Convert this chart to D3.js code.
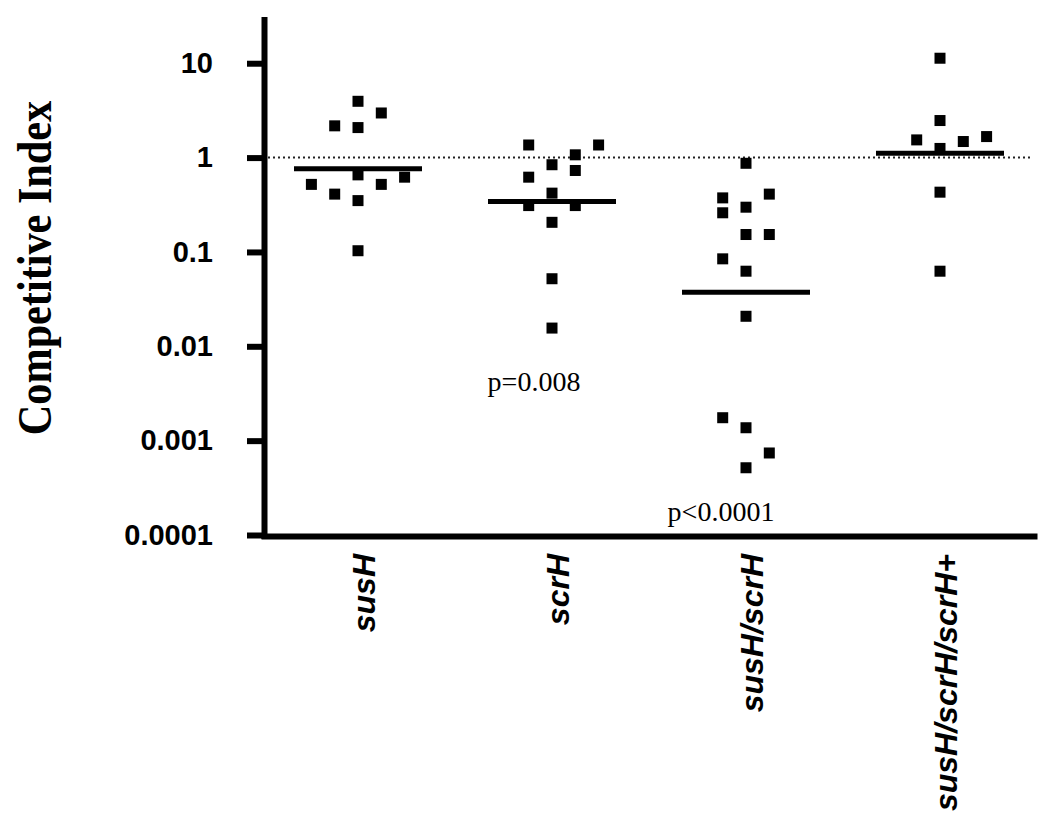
<!DOCTYPE html>
<html>
<head>
<meta charset="utf-8">
<script src="https://cdn.jsdelivr.net/npm/d3@7"></script>
<style>
  html, body { margin: 0; padding: 0; background: #fff; }
  svg { display: block; }
</style>
</head>
<body>
<svg id="chart" width="1050" height="829"></svg>
<script>
// ---- data ----
const categories = ["susH", "scrH", "susH/scrH", "susH/scrH/scrH+"];
const susHValues   = [3.95, 2.97, 2.17, 2.08, 0.656, 0.62, 0.52, 0.52, 0.41, 0.35, 0.103];
const susHSlots    = [0, 1, -1, 0, 0, 2, -2, 1, -1, 0, 0];
const scrHValues   = [1.36, 1.36, 1.07, 0.84, 0.73, 0.62, 0.42, 0.31, 0.31, 0.206, 0.052, 0.0156];
const scrHSlots    = [-1, 2, 1, 0, 1, -1, 0, -1, 1, 0, 0, 0];
const doubleValues = [0.87, 0.41, 0.374, 0.298, 0.26, 0.153, 0.153, 0.0845, 0.0625, 0.0208, 0.00175, 0.00137, 0.00074, 0.000516];
const doubleSlots  = [0, 1, -1, 0, -1, 0, 1, -1, 0, 0, -1, 0, 1, 0];
const complValues  = [11.3, 2.47, 1.54, 1.67, 1.48, 1.25, 0.43, 0.0625];
const complSlots   = [0, 0, -1, 2, 1, 0, 0, 0];
const groupMeans   = [0.76, 0.342, 0.0374, 1.11];
const yTickValues  = [10, 1, 0.1, 0.01, 0.001, 0.0001];
const yTickLabels  = ["10", "1", "0.1", "0.01", "0.001", "0.0001"];
const referenceValue = 1;
const pLabels = [
  { category: "scrH", text: "p=0.008", value: 0.00335 },
  { category: "susH/scrH", text: "p<0.0001", value: 0.000141 }
];

const groups = [
  { category: categories[0], values: susHValues, slots: susHSlots },
  { category: categories[1], values: scrHValues, slots: scrHSlots },
  { category: categories[2], values: doubleValues, slots: doubleSlots },
  { category: categories[3], values: complValues, slots: complSlots }
];

// ---- scales ----
const svg = d3.select("#chart");
const y = d3.scaleLog().domain([1e-4, Math.pow(10, 1.49)]).range([535, 17]);
const x = d3.scaleBand().domain(categories).range([261, 1037]);
const slot = d3.scaleLinear().domain([-1, 1]).range([-23.3, 23.3]);
const cx = c => x(c) + x.bandwidth() / 2;

const SANS = "'Liberation Sans', Arial, Helvetica, sans-serif";
const SERIF = "'Liberation Serif', 'Times New Roman', serif";

// ---- reference dotted line ----
svg.append("line")
  .attr("x1", 268).attr("x2", 1033)
  .attr("y1", y(referenceValue)).attr("y2", y(referenceValue))
  .attr("stroke", "#222").attr("stroke-width", 2)
  .attr("stroke-dasharray", "2,3");

// ---- points ----
const pts = groups.flatMap(g => g.values.map((v, i) => ({ c: g.category, v, s: g.slots[i] })));
const sz = 11;
svg.append("g").selectAll("rect").data(pts).join("rect")
  .attr("x", d => cx(d.c) + slot(d.s) - sz / 2)
  .attr("y", d => y(d.v) - sz / 2)
  .attr("width", sz).attr("height", sz)
  .attr("fill", "#000");

// ---- mean lines ----
svg.append("g").selectAll("line").data(groupMeans).join("line")
  .attr("x1", (d, i) => cx(categories[i]) - 64)
  .attr("x2", (d, i) => cx(categories[i]) + 64)
  .attr("y1", d => y(d)).attr("y2", d => y(d))
  .attr("stroke", "#000").attr("stroke-width", 5);

// ---- y axis ----
const yAxis = d3.axisLeft(y)
  .tickValues(yTickValues)
  .tickFormat((d, i) => yTickLabels[i])
  .tickSize(17).tickSizeOuter(0).tickPadding(34);
const gy = svg.append("g").attr("transform", "translate(264,0)").call(yAxis)
  .attr("font-family", null).attr("font-size", null);
gy.select(".domain").attr("stroke", "#000").attr("stroke-width", 6)
  .attr("d", `M0.5,${y.range()[1]}V${y.range()[0] + 4}`);
gy.selectAll(".tick line").attr("stroke", "#000").attr("stroke-width", 6);
gy.selectAll(".tick text")
  .style("font-family", SANS)
  .style("font-weight", "bold").style("font-size", "29px").attr("fill", "#000");

// ---- x axis ----
const xAxis = d3.axisBottom(x).tickSize(0).tickSizeOuter(0).tickFormat("");
const gx = svg.append("g").attr("transform", "translate(0,536)").call(xAxis);
gx.select(".domain").attr("stroke", "#000").attr("stroke-width", 6);

svg.append("g").selectAll("text").data(categories).join("text")
  .attr("transform", d => `translate(${cx(d) + 16.5},554) rotate(-90)`)
  .attr("text-anchor", "end")
  .style("font-family", SANS)
  .style("font-weight", "bold").style("font-style", "italic")
  .style("font-size", "32px").attr("fill", "#000")
  .text(d => d);

// ---- y title ----
svg.append("text")
  .attr("transform", "translate(51,268) rotate(-90) scale(0.88,1)")
  .attr("text-anchor", "middle")
  .style("font-family", SERIF)
  .style("font-weight", "bold").style("font-size", "48px").attr("fill", "#000")
  .text("Competitive Index");

// ---- p-value labels ----
svg.append("g").selectAll("text").data(pLabels).join("text")
  .attr("x", (d, i) => cx(d.category) + (i === 0 ? -18 : -25))
  .attr("y", d => y(d.value))
  .attr("text-anchor", "middle")
  .style("font-family", SERIF)
  .style("font-size", "28px").attr("fill", "#000")
  .text(d => d.text);
</script>
</body>
</html>
